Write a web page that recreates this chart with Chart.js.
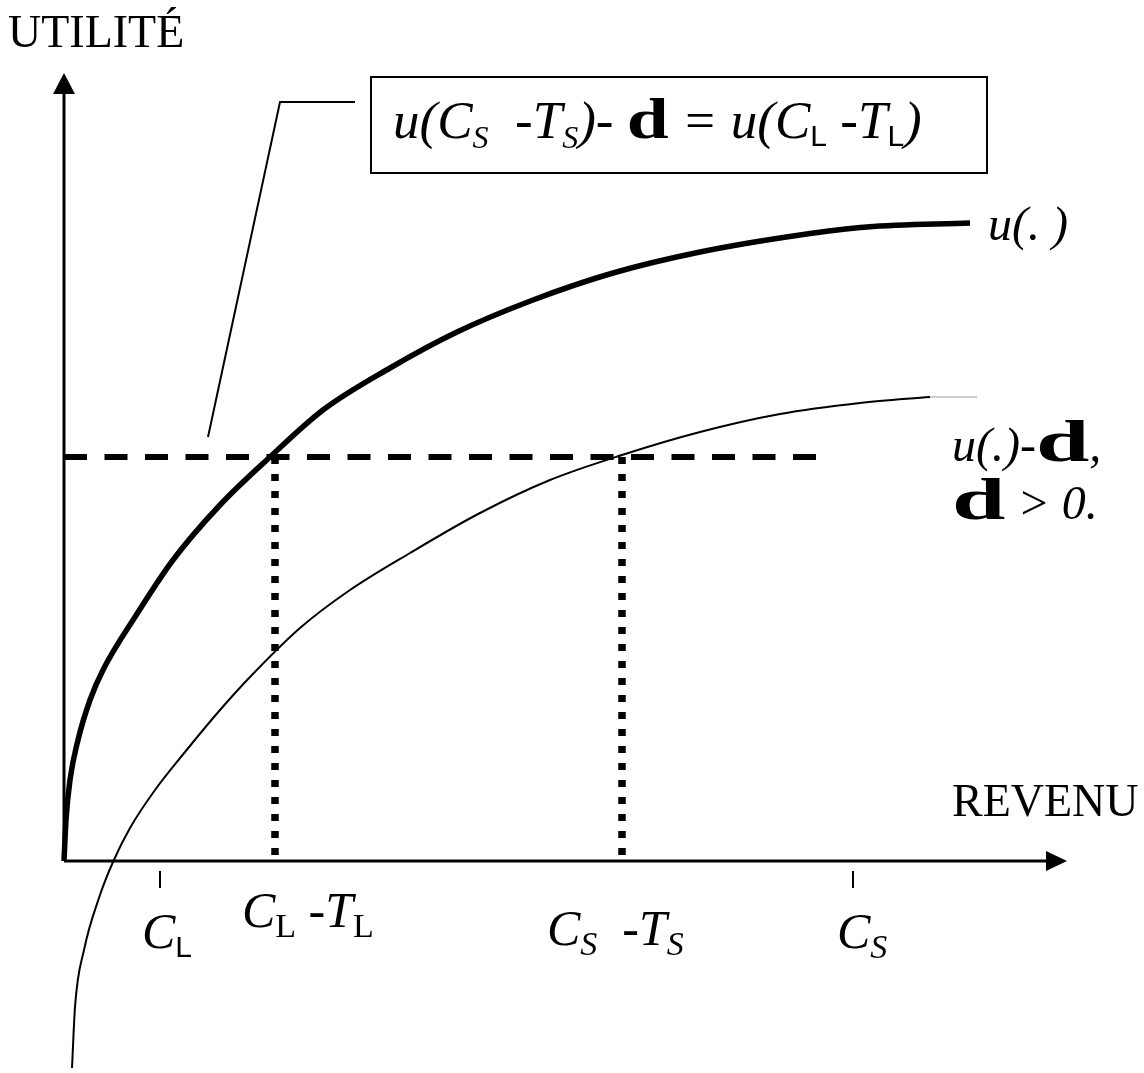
<!DOCTYPE html>
<html>
<head>
<meta charset="utf-8">
<script src="https://cdn.jsdelivr.net/npm/chart.js@4.4.0/dist/chart.umd.min.js"></script>
<style>
  html, body { margin: 0; padding: 0; background: #fff; }
  #wrap { width: 1144px; height: 1073px; position: relative; }
</style>
</head>
<body>
<div id="wrap"><canvas id="c"></canvas></div>
<script>
// Valeurs (unités arbitraires : revenu en x, utilité en y)
const uX = [0, 0.2, 0.6, 1.4, 2.6, 3.9, 7.1, 10.9, 15.6, 20.6, 25.9, 32.6, 39.3, 46.9, 54.9, 63.6, 73.6, 80.3, 90.6];
const uY = [0, 4.1, 8.1, 12.1, 16.1, 19.1, 24.4, 30.1, 35.6, 40.4, 45.1, 49.3, 52.9, 56.1, 58.8, 60.9, 62.6, 63.4, 63.8];

const udX = [0.8, 1.1, 2.0, 3.6, 4.9, 6.6, 9.1, 12.1, 15.6, 18.6, 23.6, 28.6, 34.6, 41.6, 48.6, 55.8, 63.6, 71.6, 79.6, 86.6];
const udY = [-20.7, -14.6, -8.9, -3.4, -0.1, 3.3, 7.1, 10.9, 15.1, 18.4, 23.3, 27.1, 30.8, 34.8, 38.1, 40.6, 42.9, 44.7, 45.8, 46.4];
const udTailX = [86.6, 91.3];

const dLevel = 40.4;          // niveau u(C_S - T_S) - d = u(C_L - T_L)
const dashEndX = 75.3;
const equalX = [21.1, 55.8];  // C_L - T_L , C_S - T_S
const tickX = [9.6, 78.9];    // C_L , C_S
const leaderX = [14.4, 21.6, 29.1];
const leaderY = [42.4, 75.9, 75.9];
const axisMaxX = 100.3;
const axisMaxY = 78.8;

const pts = (xs, ys) => xs.map((x, i) => ({ x, y: ys[i] }));
const line = (data, extra) => Object.assign({
  data, showLine: true, pointRadius: 0, borderColor: '#000', borderWidth: 2, fill: false, clip: false
}, extra);

const SERIF = '"Liberation Serif", "Times New Roman", serif';
const SANS = '"Liberation Sans", Arial, sans-serif';

// Texte en morceaux (indices, italiques, gras) écrit de gauche à droite
function runs(ctx, x, y, parts) {
  parts.forEach(p => {
    ctx.save();
    ctx.font = p.f;
    const w = ctx.measureText(p.t).width * (p.sx || 1);
    ctx.translate(x, y + (p.dy || 0));
    if (p.sx) ctx.scale(p.sx, 1);
    ctx.fillText(p.t, 0, 0);
    ctx.restore();
    x += w;
  });
}

const decor = {
  id: 'decor',
  afterDatasetsDraw(chart) {
    const ctx = chart.ctx, xs = chart.scales.x, ys = chart.scales.y;
    const px = v => xs.getPixelForValue(v), py = v => ys.getPixelForValue(v);
    ctx.save();
    ctx.fillStyle = '#000';
    ctx.strokeStyle = '#000';

    // pointes de flèches
    const ox = px(0), oy = py(0);
    const tx = px(axisMaxX), ty = py(axisMaxY);
    ctx.beginPath();
    ctx.moveTo(ox, ty); ctx.lineTo(ox - 11, ty + 21); ctx.lineTo(ox + 11, ty + 21); ctx.closePath(); ctx.fill();
    ctx.beginPath();
    ctx.moveTo(tx, oy); ctx.lineTo(tx - 21, oy - 10); ctx.lineTo(tx - 21, oy + 10); ctx.closePath(); ctx.fill();

    // petits traits sous l'axe
    ctx.lineWidth = 2;
    tickX.forEach(v => {
      ctx.beginPath(); ctx.moveTo(px(v), oy + 10); ctx.lineTo(px(v), oy + 27); ctx.stroke();
    });

    // encadré
    ctx.lineWidth = 2;
    ctx.strokeRect(371, 77, 616, 96);

    ctx.textBaseline = 'alphabetic';
    const it = s => `italic ${s}px ${SERIF}`;
    const up = s => `${s}px ${SERIF}`;
    const sans = s => `${s}px ${SANS}`;
    const dd = s => `bold ${s}px ${SERIF}`;

    runs(ctx, 393, 138, [
      { t: 'u(C', f: it(53) }, { t: 'S', f: it(32), dy: 10 },
      { t: '  -T', f: it(53) }, { t: 'S', f: it(32), dy: 10 },
      { t: ')- ', f: it(53) }, { t: 'd', f: dd(58), sx: 1.3 },
      { t: ' = u(C', f: it(53) }, { t: 'L', f: sans(30), dy: 8 },
      { t: ' -T', f: it(53) }, { t: 'L', f: sans(30), dy: 8 },
      { t: ')', f: it(53) }
    ]);

    // titres des axes
    ctx.font = up(46);
    ctx.fillText('UTILITÉ', 8, 47);
    ctx.fillText('REVENU', 952, 816);

    // étiquettes des courbes
    runs(ctx, 988, 240, [{ t: 'u(. )', f: it(48) }]);
    runs(ctx, 952, 461, [{ t: 'u(.)-', f: it(48) }, { t: 'd', f: dd(60), sx: 1.6 }, { t: ',', f: it(48) }]);
    runs(ctx, 952, 519, [{ t: 'd', f: dd(60), sx: 1.6 }, { t: ' > 0.', f: it(48) }]);

    // étiquettes de l'axe des revenus
    runs(ctx, px(tickX[0]) - 18, 948, [{ t: 'C', f: it(50) }, { t: 'L', f: sans(30), dy: 9 }]);
    runs(ctx, px(equalX[0]) - 33, 927, [
      { t: 'C', f: it(50) }, { t: 'L', f: up(34), dy: 10 },
      { t: ' -T', f: it(50) }, { t: 'L', f: up(34), dy: 10 }
    ]);
    runs(ctx, px(equalX[1]) - 75, 945, [
      { t: 'C', f: it(50) }, { t: 'S', f: it(34), dy: 10 },
      { t: '  -T', f: it(50) }, { t: 'S', f: it(34), dy: 10 }
    ]);
    runs(ctx, px(tickX[1]) - 16, 948, [{ t: 'C', f: it(50) }, { t: 'S', f: it(34), dy: 10 }]);

    ctx.restore();
  }
};

new Chart(document.getElementById('c'), {
  type: 'scatter',
  data: {
    datasets: [
      // axes
      line([{ x: 0, y: 0 }, { x: axisMaxX - 2, y: 0 }], { borderWidth: 3 }),
      line([{ x: 0, y: 0 }, { x: 0, y: axisMaxY - 2 }], { borderWidth: 3 }),
      // u(.) et u(.) - d
      line(pts(uX, uY), { borderWidth: 5.5, cubicInterpolationMode: 'monotone' }),
      line(pts(udX, udY), { borderWidth: 2, cubicInterpolationMode: 'monotone' }),
      line(pts(udTailX, [udY[udY.length - 1], udY[udY.length - 1]]), { borderWidth: 1, borderColor: '#999' }),
      // niveau commun
      line([{ x: 0, y: dLevel }, { x: dashEndX, y: dLevel }], { borderWidth: 6, borderDash: [23, 17.5], borderCapStyle: 'butt' }),
      ...equalX.map(v => line([{ x: v, y: dLevel }, { x: v, y: 0 }], { borderWidth: 7.5, borderDash: [7, 10], borderCapStyle: 'butt' })),
      // renvoi vers l'encadré
      line(pts(leaderX, leaderY), { borderWidth: 2 })
    ]
  },
  options: {
    responsive: true,
    maintainAspectRatio: false,
    animation: false,
    layout: { padding: { left: 64, right: 70, top: 71, bottom: 2 } },
    plugins: { legend: { display: false }, tooltip: { enabled: false } },
    scales: {
      x: { type: 'linear', min: 0, max: 101, display: false },
      y: { type: 'linear', min: -21, max: 79, display: false }
    }
  },
  plugins: [decor]
});
</script>
</body>
</html>
